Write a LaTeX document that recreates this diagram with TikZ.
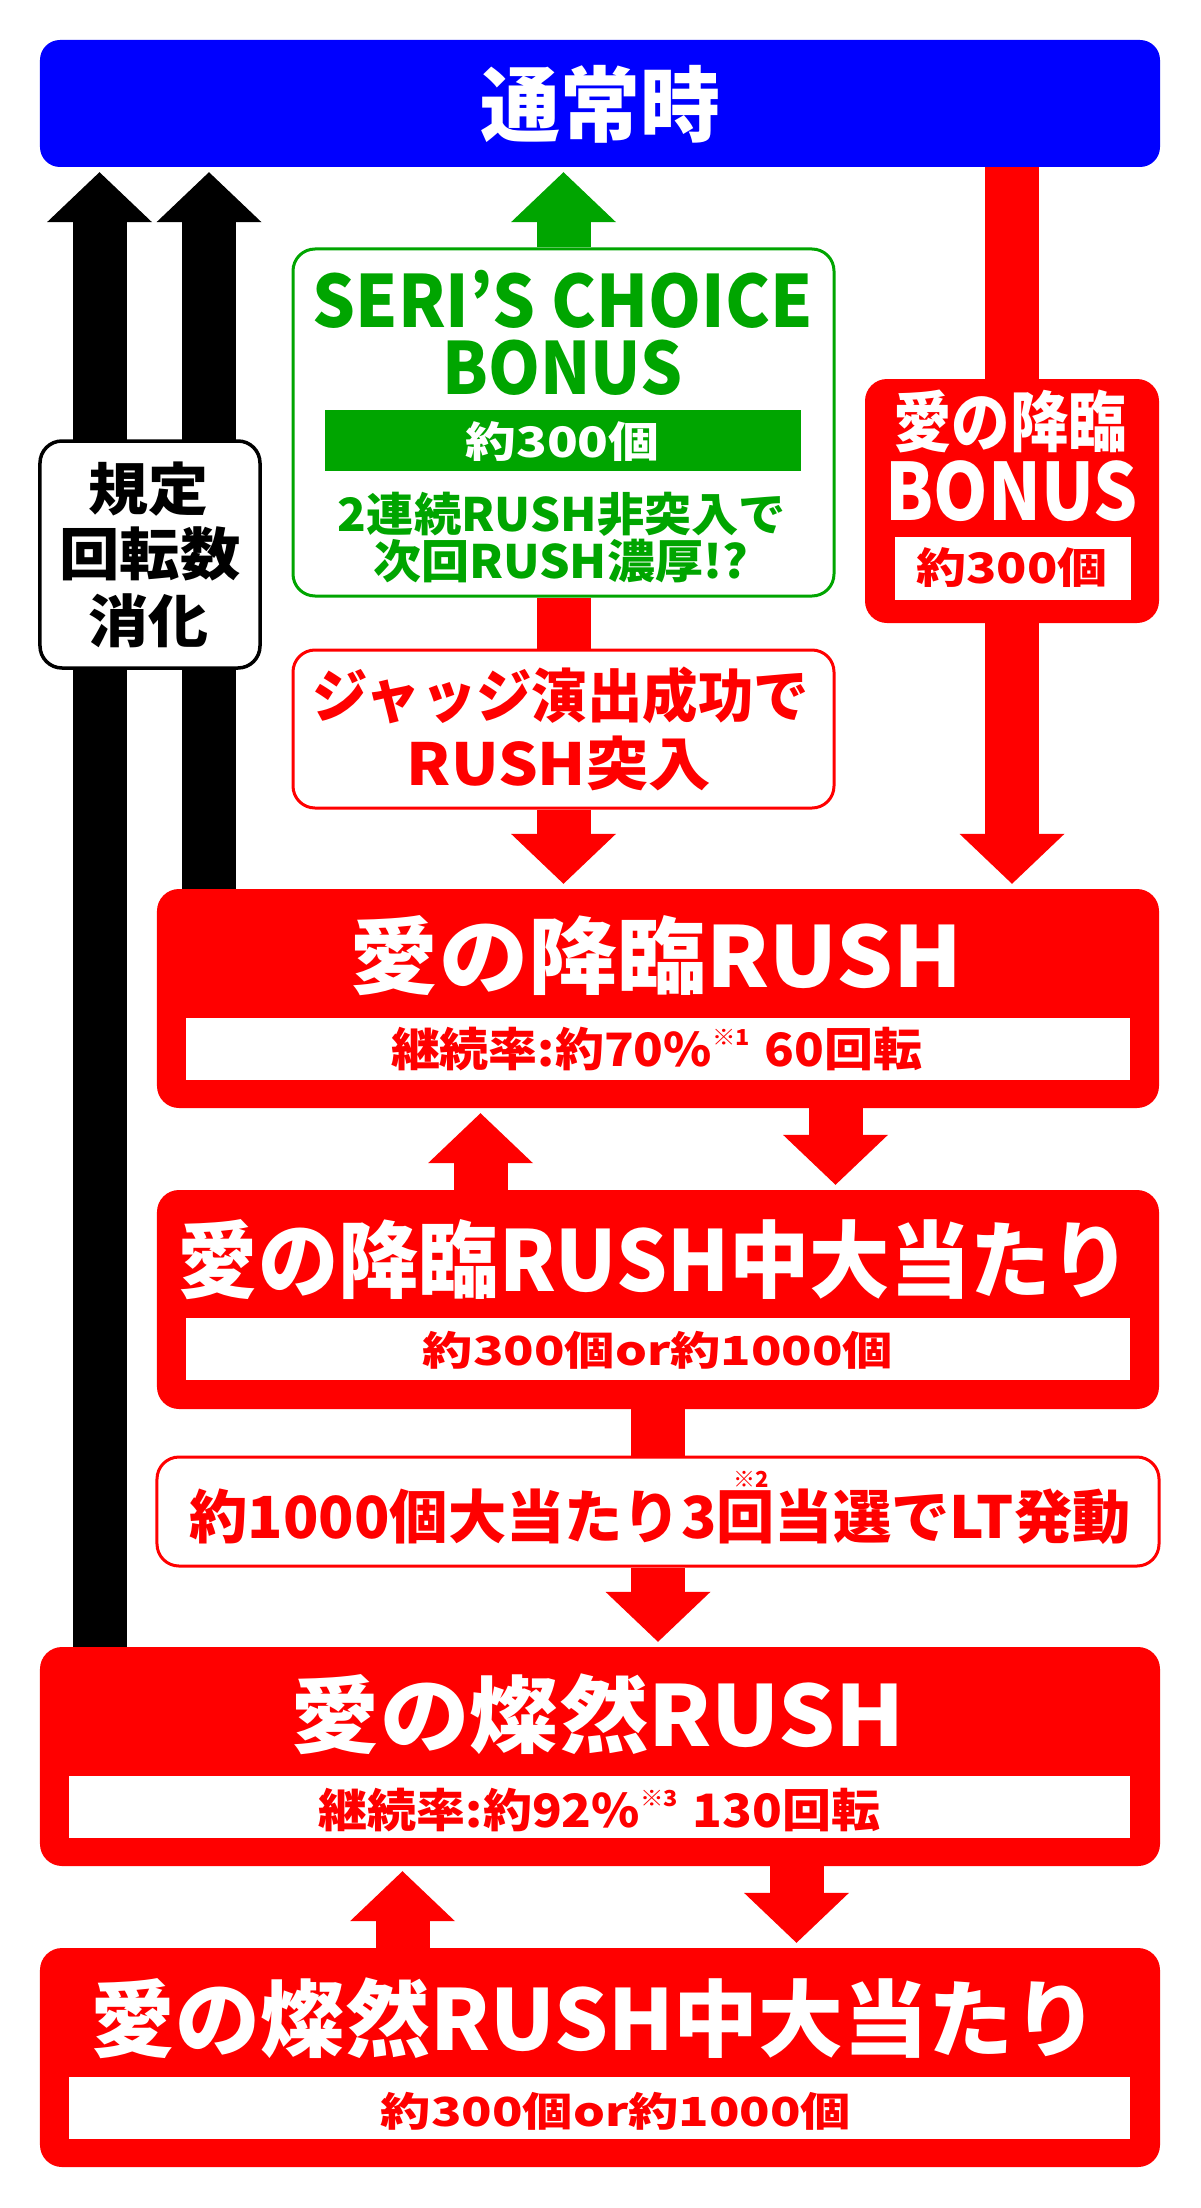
\documentclass[tikz,border=0pt]{standalone}
\usepackage{fontspec}
\setmainfont{Noto Sans CJK JP}
\usepackage{graphicx}
\usepackage{xcolor}
\usepackage{tikz}
\usetikzlibrary{arrows.meta, backgrounds}

\definecolor{rojo}{RGB}{255,0,0}
\definecolor{azul}{RGB}{0,0,255}
\definecolor{verde}{RGB}{0,165,0}

% tamano de letra y ancho del texto (en px de la imagen)
\newcommand{\tam}[1]{\fontsize{#1bp}{#1bp}\selectfont}
\newcommand{\ancho}[2]{\resizebox{#1bp}{\height}{#2}}

\begin{document}
\begin{tikzpicture}[x=1bp, y=-1bp,
        cajaroja/.style={fill=rojo, rounded corners=22bp, inner sep=0pt},
        cajablanca/.style={fill=white, draw=rojo, line width=3bp, rounded corners=22bp, inner sep=0pt},
        franja/.style={fill=white, inner sep=0pt},
        texto/.style={inner sep=0pt, font=\bfseries},
        flecha/.style={line width=54bp, -{Triangle[width=105bp, length=50bp, line width=0pt]}, shorten >=5bp},
        tubo/.style={line width=54bp}]
    \useasboundingbox (0,0) rectangle (1200,2208);

    % Cajas principales
    \node[fill=azul, rounded corners=20bp, inner sep=0pt, minimum width=1120bp, minimum height=127bp] (normal) at (600,103.5) {};
    \node[fill=white, draw=black, line width=3.5bp, rounded corners=22bp, inner sep=0pt, minimum width=220bp, minimum height=227bp] (conteo) at (150,554.5) {};
    \node[fill=white, draw=verde, line width=3bp, rounded corners=22bp, inner sep=0pt, minimum width=541bp, minimum height=347bp] (eleccion) at (563.5,422.5) {};
    \node[cajablanca, minimum width=541bp, minimum height=158bp] (juicio) at (563.5,729) {};
    \node[cajaroja, minimum width=294bp, minimum height=244bp] (bonus) at (1012,501) {};
    \node[cajaroja, minimum width=1002bp, minimum height=219bp] (rush1) at (658,998.5) {};
    \node[cajaroja, minimum width=1002bp, minimum height=219bp] (rush1hit) at (658,1299.5) {};
    \node[cajablanca, minimum width=1002bp, minimum height=109bp] (lt) at (658,1511.5) {};
    \node[cajaroja, minimum width=1120bp, minimum height=219bp] (rush2) at (600,1756.5) {};
    \node[cajaroja, minimum width=1120bp, minimum height=219bp] (rush2hit) at (600,2057.5) {};

    % Franjas interiores
    \node[fill=verde, inner sep=0pt, minimum width=476bp, minimum height=61bp] (barra) at (563,440.5) {};
    \node[franja, minimum width=236bp, minimum height=63bp] (f-bonus) at (1013,568.5) {};
    \node[franja, minimum width=944bp, minimum height=62bp] (f-rush1) at (658,1049) {};
    \node[franja, minimum width=944bp, minimum height=62bp] (f-rush1hit) at (658,1349) {};
    \node[franja, minimum width=1061bp, minimum height=62bp] (f-rush2) at (599.5,1807) {};
    \node[franja, minimum width=1061bp, minimum height=62bp] (f-rush2hit) at (599.5,2108) {};

    % Textos
    \node[texto, white] (t-normal) at (600,104) {\tam{82}\ancho{240}{通常時}};
    \node[texto] (t-conteo1) at (148.5,489) {\tam{57}\ancho{120}{規定}};
    \node[texto] (t-conteo2) at (150,553.5) {\tam{57}\ancho{181}{回転数}};
    \node[texto] (t-conteo3) at (148.5,620.5) {\tam{57}\ancho{120}{消化}};
    \node[texto, verde] (t-seri) at (562.5,299) {\tam{72}\ancho{500}{SERI’S CHOICE}};
    \node[texto, verde] (t-seri2) at (562.5,368) {\tam{72}\ancho{240}{BONUS}};
    \node[texto, white] (t-barra) at (562.5,442) {\tam{42}\ancho{194}{約300個}};
    \node[texto, verde] (t-seri3) at (562,514.5) {\tam{46}\ancho{448}{2連続RUSH非突入で}};
    \node[texto, verde] (t-seri4) at (560.5,561.5) {\tam{46}\ancho{375}{次回RUSH濃厚!?}};
    \node[texto, rojo] (t-juicio1) at (561,695) {\tam{58}\ancho{496}{ジャッジ演出成功で}};
    \node[texto, rojo] (t-juicio2) at (559,763.5) {\tam{58}\ancho{304}{RUSH突入}};
    \node[texto, white] (t-bonus1) at (1010,421) {\tam{66}\ancho{234}{愛の降臨}};
    \node[texto, white] (t-bonus2) at (1011.5,491) {\tam{79}\ancho{252}{BONUS}};
    \node[texto, rojo] (t-bonus3) at (1012,568) {\tam{42}\ancho{191}{約300個}};
    \node[texto, white] (t-rush1) at (656,956) {\tam{84}\ancho{612}{愛の降臨RUSH}};
    \node[texto, rojo] (t-rush1b) at (656.5,1049) {\tam{46}\ancho{531}{継続率:約70\%\raisebox{0.45em}{\tam{22}※1}\hspace{0.3em}60回転}};
    \node[texto, white] (t-rush1hit) at (654.5,1259.5) {\tam{84}\ancho{953}{愛の降臨RUSH中大当たり}};
    \node[texto, rojo] (t-rush1hitb) at (658,1350.5) {\tam{40}\ancho{470}{約300個or約1000個}};
    \node[texto, rojo] (t-lt) at (660,1516.5) {\tam{58}\ancho{941}{約1000個大当たり3回当選でLT発動}};
    \node[texto, rojo] (t-lt2) at (751.5,1479.5) {\tam{22}※2};
    \node[texto, white] (t-rush2) at (598,1714.5) {\tam{84}\ancho{614}{愛の燦然RUSH}};
    \node[texto, rojo] (t-rush2b) at (599.5,1809.5) {\tam{46}\ancho{561}{継続率:約92\%\raisebox{0.45em}{\tam{22}※3}\hspace{0.3em}130回転}};
    \node[texto, white] (t-rush2hit) at (594.5,2018.5) {\tam{84}\ancho{1007}{愛の燦然RUSH中大当たり}};
    \node[texto, rojo] (t-rush2hitb) at (616,2111) {\tam{40}\ancho{470}{約300個or約1000個}};

    % Posiciones de las flechas
    \coordinate (x-negro1) at (99.5,0);
    \coordinate (x-negro2) at (209,0);
    \coordinate (x-baja1) at (835.5,0);
    \coordinate (x-sube1) at (480.5,0);
    \coordinate (x-baja2) at (796.5,0);
    \coordinate (x-sube2) at (402.5,0);

    % Flechas detras de las cajas
    \begin{scope}[on background layer]
        \fill[white] (0,0) rectangle (1200,2208);
        \draw[flecha, black] (rush2.north -| x-negro1) -- (normal.south -| x-negro1);
        \draw[flecha, black] (rush1.north -| x-negro2) -- (normal.south -| x-negro2);
        \draw[flecha, verde] (eleccion.north) -- (normal.south -| eleccion);
        \draw[tubo, rojo] (eleccion.south) -- (juicio.north);
        \draw[flecha, rojo] (juicio.south) -- (rush1.north -| juicio);
        \draw[flecha, rojo] (normal.south -| bonus) -- (rush1.north -| bonus);
        \draw[flecha, rojo] (rush1.south -| x-baja1) -- (rush1hit.north -| x-baja1);
        \draw[flecha, rojo] (rush1hit.north -| x-sube1) -- (rush1.south -| x-sube1);
        \draw[tubo, rojo] (rush1hit.south) -- (lt.north);
        \draw[flecha, rojo] (lt.south) -- (rush2.north -| lt);
        \draw[flecha, rojo] (rush2.south -| x-baja2) -- (rush2hit.north -| x-baja2);
        \draw[flecha, rojo] (rush2hit.north -| x-sube2) -- (rush2.south -| x-sube2);
    \end{scope}
\end{tikzpicture}
\end{document}
